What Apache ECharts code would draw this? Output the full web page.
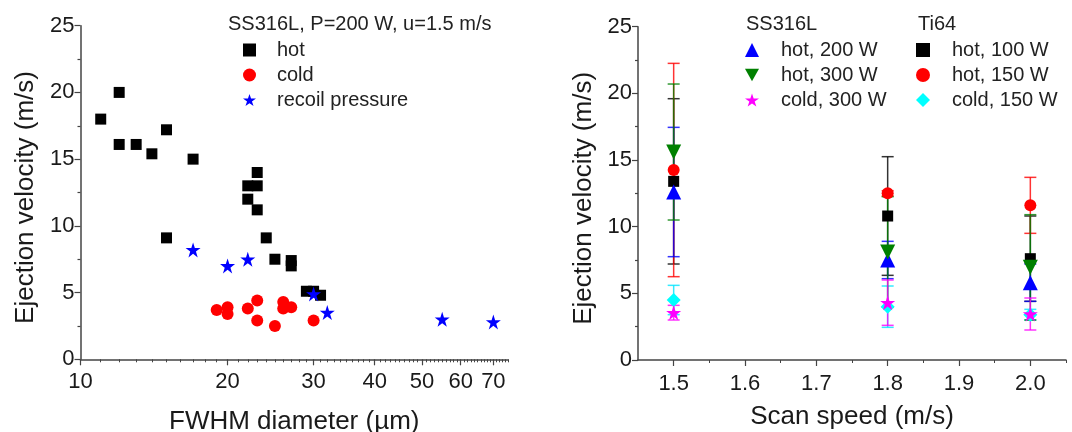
<!DOCTYPE html>
<html>
<head>
<meta charset="utf-8">
<script src="https://cdn.jsdelivr.net/npm/echarts@6/dist/echarts.min.js"></script>
<style>
  html, body { margin: 0; padding: 0; background: #fff; }
  #chart { width: 1072px; height: 432px; }
</style>
</head>
<body>
<div id="chart"></div>
<script>
// ---- left panel: FWHM diameter (um) vs ejection velocity (m/s) ----
var hotD = [11, 12, 12, 13, 14, 15, 15, 17, 22, 23, 23, 22, 23, 24, 25, 27, 27, 29, 30, 31];
var hotV = [18, 20, 16.1, 16.1, 15.4, 17.2, 9.1, 15.0, 13, 13, 14, 12, 11.2, 9.1, 7.5, 7.4, 7.0, 5.1, 5.1, 4.8];
var coldD = [19, 20, 20, 22, 23, 23, 25, 26, 26, 27, 30];
var coldV = [3.7, 3.9, 3.4, 3.8, 4.4, 2.9, 2.5, 4.3, 3.8, 3.9, 2.9];
var recoilD = [17, 20, 22, 30, 32, 55, 70];
var recoilV = [8.2, 7.0, 7.5, 4.9, 3.5, 3.0, 2.8];
var diamLabels = [10, 20, 30, 40, 50, 60, 70];

// ---- right panel: scan speed (m/s) vs ejection velocity, mean and error ----
var speeds = [1.5, 1.8, 2.0];
var ssHot200 = [12.6, 7.5, 5.8],   ssHot200Err = [4.85, 1.4, 1.4];
var ssHot300 = [15.6, 8.1, 6.95],  ssHot300Err = [5.1, 4.15, 3.95];
var ssCold300 = [3.55, 4.3, 3.45], ssCold300Err = [0.55, 1.7, 1.2];
var tiHot100 = [13.4, 10.8, 7.6],  tiHot100Err = [6.2, 4.45, 3.2];
var tiHot150 = [14.25, 12.5, 11.6], tiHot150Err = [8.0, 0.2, 2.1];
var tiCold150 = [4.5, 4.0, 3.4],   tiCold150Err = [1.1, 1.55, 0.4];
var speedLabels = [1.5, 1.6, 1.7, 1.8, 1.9, 2.0];

var FONT = 'Liberation Sans, Arial, sans-serif';
var STAR = 'path://M50,0 L61.8,35.3 L100,35.3 L69.1,57.1 L80.9,92.7 L50,70.5 L19.1,92.7 L30.9,57.1 L0,35.3 L38.2,35.3 Z';
var DOWN_TRI = 'path://M0,0 L100,0 L50,90 Z';
var axisCol = '#444';
var txtCol = '#1a1a1a';

// minor ticks of the log axis: every integer between the labelled values
var diamMinor = [];
for (var d = 11; d <= 75; d++) {
  if (diamLabels.indexOf(d) < 0) diamMinor.push(Math.log10(d));
}

function pairsLog(xs, ys) {
  return xs.map(function (x, i) { return [Math.log10(x), ys[i]]; });
}
function pairs(xs, ys) {
  return xs.map(function (x, i) { return [x, ys[i]]; });
}
function errData(ys, es) {
  return speeds.map(function (x, i) { return [x, ys[i] - es[i], ys[i] + es[i]]; });
}

function errSeries(name, color, ys, es) {
  return {
    name: name + ' err',
    type: 'custom',
    xAxisIndex: 2,
    yAxisIndex: 1,
    z: 1,
    silent: true,
    encode: { x: 0, y: [1, 2] },
    data: errData(ys, es),
    renderItem: function (params, api) {
      var x = api.value(0);
      var lo = api.coord([x, api.value(1)]);
      var hi = api.coord([x, api.value(2)]);
      var w = 6;
      var st = { stroke: color, lineWidth: 1.5, opacity: 0.8 };
      return {
        type: 'group',
        children: [
          { type: 'line', shape: { x1: lo[0], y1: lo[1], x2: hi[0], y2: hi[1] }, style: st },
          { type: 'line', shape: { x1: hi[0] - w, y1: hi[1], x2: hi[0] + w, y2: hi[1] }, style: st },
          { type: 'line', shape: { x1: lo[0] - w, y1: lo[1], x2: lo[0] + w, y2: lo[1] }, style: st }
        ]
      };
    }
  };
}
function ptSeries(name, color, symbol, size, ys) {
  return {
    name: name,
    type: 'scatter',
    xAxisIndex: 2,
    yAxisIndex: 1,
    z: 3,
    symbol: symbol,
    symbolSize: size,
    itemStyle: { color: color, opacity: 1 },
    data: pairs(speeds, ys)
  };
}

var chart = echarts.init(document.getElementById('chart'));

var yAxisBase = {
  type: 'value',
  min: 0,
  max: 25,
  interval: 5,
  name: 'Ejection velocity (m/s)',
  nameLocation: 'middle',
  nameGap: 42,
  nameTextStyle: { fontSize: 26, color: txtCol, fontFamily: FONT, padding: [0, 10, 0, 0] },
  axisLine: { show: true, lineStyle: { color: axisCol, width: 1.5 } },
  axisTick: { show: true, length: 6, lineStyle: { color: axisCol, width: 1.2 } },
  minorTick: { show: true, splitNumber: 2, length: 3, lineStyle: { color: axisCol, width: 1.2 } },
  axisLabel: { fontSize: 22, color: txtCol, fontFamily: FONT, margin: 6 },
  splitLine: { show: false }
};

var option = {
  animation: false,
  backgroundColor: '#fff',
  textStyle: { fontFamily: FONT },
  title: [
    { text: 'SS316L, P=200 W, u=1.5 m/s', left: 228, top: 14, padding: 0,
      textStyle: { fontSize: 20, fontWeight: 'normal', color: '#222', fontFamily: FONT } },
    { text: 'SS316L', left: 746, top: 14, padding: 0,
      textStyle: { fontSize: 20, fontWeight: 'normal', color: '#222', fontFamily: FONT } },
    { text: 'Ti64', left: 918, top: 14, padding: 0,
      textStyle: { fontSize: 20, fontWeight: 'normal', color: '#222', fontFamily: FONT } }
  ],
  legend: [
    {
      data: ['hot', 'cold', 'recoil pressure'],
      orient: 'vertical', left: 243, top: 40, padding: 0,
      itemWidth: 13, itemHeight: 13, itemGap: 5,
      textStyle: { fontSize: 20, color: '#222', lineHeight: 20, padding: [0, 0, 0, 16] }
    },
    {
      data: ['hot, 200 W', 'hot, 300 W', 'cold, 300 W'],
      orient: 'vertical', left: 745, top: 40, padding: 0,
      itemWidth: 14, itemHeight: 14, itemGap: 5,
      textStyle: { fontSize: 20, color: '#222', lineHeight: 20, padding: [0, 0, 0, 17] }
    },
    {
      data: ['hot, 100 W', 'hot, 150 W', 'cold, 150 W'],
      orient: 'vertical', left: 916, top: 40, padding: 0,
      itemWidth: 14, itemHeight: 14, itemGap: 5,
      textStyle: { fontSize: 20, color: '#222', lineHeight: 20, padding: [0, 0, 0, 17] }
    }
  ],
  grid: [
    { left: 80.5, top: 25.7, width: 427.5, height: 333.6, outerBoundsMode: 'none' },
    { left: 638, top: 26.7, width: 428, height: 333.3, outerBoundsMode: 'none' }
  ],
  xAxis: [
    {
      // log10 of FWHM diameter, labels at 10..70
      gridIndex: 0, type: 'value', position: 'bottom',
      min: 1, max: Math.log10(75),
      name: 'FWHM diameter (µm)', nameLocation: 'middle', nameGap: 50,
      nameTextStyle: { fontSize: 26, color: txtCol, fontFamily: FONT },
      axisLine: { show: true, lineStyle: { color: axisCol, width: 1.5 } },
      axisTick: { show: true, length: 6, lineStyle: { color: axisCol, width: 1.2 },
        customValues: diamLabels.map(function (v) { return Math.log10(v); }) },
      axisLabel: { fontSize: 22, color: txtCol, fontFamily: FONT, margin: 12,
        customValues: diamLabels.map(function (v) { return Math.log10(v); }),
        formatter: function (v) { return Math.round(Math.pow(10, v)); } },
      splitLine: { show: false }
    },
    {
      gridIndex: 0, type: 'value', position: 'bottom',
      min: 1, max: Math.log10(75),
      axisLine: { show: false },
      axisTick: { show: true, length: 3, lineStyle: { color: axisCol, width: 1 }, customValues: diamMinor },
      axisLabel: { show: false },
      splitLine: { show: false }
    },
    {
      gridIndex: 1, type: 'value', position: 'bottom',
      min: 1.45, max: 2.05,
      name: 'Scan speed (m/s)', nameLocation: 'middle', nameGap: 44,
      nameTextStyle: { fontSize: 26, color: txtCol, fontFamily: FONT },
      axisLine: { show: true, lineStyle: { color: axisCol, width: 1.5 } },
      axisTick: { show: true, length: 6, lineStyle: { color: axisCol, width: 1.2 }, customValues: speedLabels },
      axisLabel: { fontSize: 22, color: txtCol, fontFamily: FONT, margin: 13, customValues: speedLabels,
        formatter: function (v) { return v.toFixed(1); } },
      splitLine: { show: false }
    },
    {
      gridIndex: 1, type: 'value', position: 'bottom',
      min: 1.45, max: 2.05,
      axisLine: { show: false },
      axisTick: { show: true, length: 3, lineStyle: { color: axisCol, width: 1 },
        customValues: [1.55, 1.65, 1.75, 1.85, 1.95, 2.05] },
      axisLabel: { show: false },
      splitLine: { show: false }
    }
  ],
  yAxis: [
    Object.assign({}, yAxisBase, { gridIndex: 0 }),
    Object.assign({}, yAxisBase, { gridIndex: 1, nameGap: 41 })
  ],
  series: [
    { name: 'hot', type: 'scatter', xAxisIndex: 0, yAxisIndex: 0, symbol: 'rect', symbolSize: 11,
      itemStyle: { color: '#000', opacity: 1 }, data: pairsLog(hotD, hotV) },
    { name: 'cold', type: 'scatter', xAxisIndex: 0, yAxisIndex: 0, symbol: 'circle', symbolSize: 12,
      itemStyle: { color: '#ff0000', opacity: 1 }, data: pairsLog(coldD, coldV) },
    { name: 'recoil pressure', type: 'scatter', xAxisIndex: 0, yAxisIndex: 0, symbol: STAR, symbolSize: 15,
      itemStyle: { color: '#0000ff', opacity: 1 }, data: pairsLog(recoilD, recoilV) },

    errSeries('hot, 100 W', '#000000', tiHot100, tiHot100Err),
    errSeries('hot, 150 W', '#ff0000', tiHot150, tiHot150Err),
    errSeries('cold, 150 W', '#00e5ff', tiCold150, tiCold150Err),
    errSeries('hot, 200 W', '#0000ff', ssHot200, ssHot200Err),
    errSeries('hot, 300 W', '#008000', ssHot300, ssHot300Err),
    errSeries('cold, 300 W', '#ff00ff', ssCold300, ssCold300Err),

    ptSeries('hot, 100 W', '#000000', 'rect', 11, tiHot100),
    ptSeries('hot, 150 W', '#ff0000', 'circle', 12, tiHot150),
    ptSeries('cold, 150 W', '#00ffff', 'diamond', 14, tiCold150),
    ptSeries('hot, 200 W', '#0000ff', 'triangle', 15, ssHot200),
    ptSeries('hot, 300 W', '#008000', DOWN_TRI, 15, ssHot300),
    ptSeries('cold, 300 W', '#ff00ff', STAR, 15, ssCold300)
  ]
};

chart.setOption(option);
</script>
</body>
</html>
